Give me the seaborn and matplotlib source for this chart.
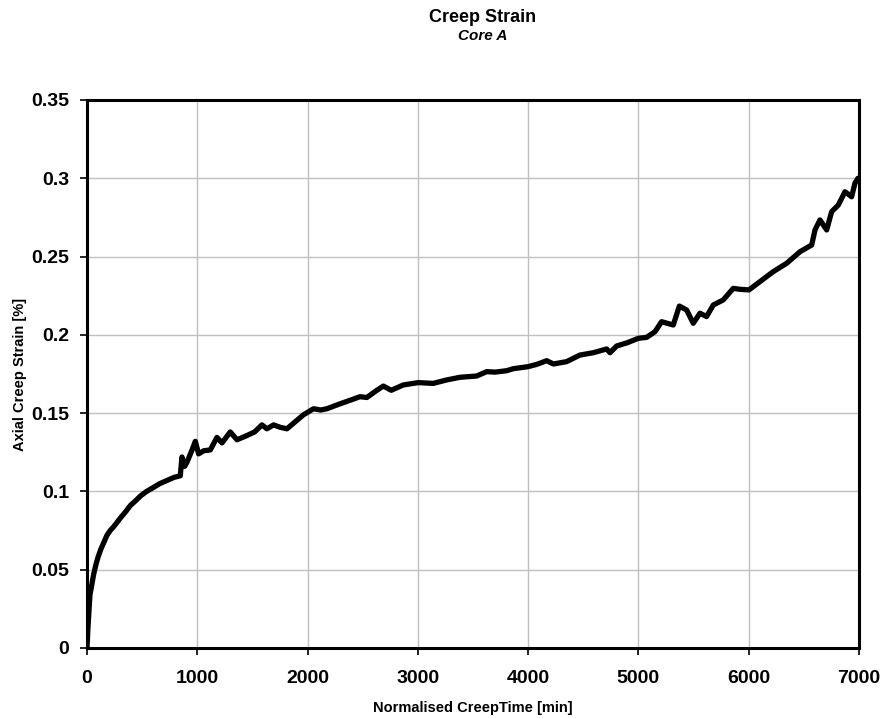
import matplotlib
matplotlib.use("Agg")
import matplotlib.pyplot as plt
import seaborn as sns
import pandas as pd

# Creep test record: normalised creep time [min] vs axial creep strain [%]
creep_time = [0, 8, 18, 27, 45, 60, 80, 100, 125, 150, 181, 210, 242, 270, 302, 350,
              393, 440, 483, 540, 604, 660, 725, 790, 846, 861, 885, 906, 950, 982,
              1012, 1060, 1118, 1178, 1224, 1299, 1360, 1450, 1520, 1586, 1631, 1692,
              1750, 1813, 1873, 1964, 2054, 2120, 2175, 2296, 2417, 2475, 2538, 2628,
              2687, 2759, 2868, 3004, 3140, 3261, 3382, 3533, 3624, 3700, 3805, 3866,
              4001, 4080, 4168, 4229, 4349, 4470, 4591, 4712, 4742, 4803, 4900, 4999,
              5074, 5150, 5210, 5316, 5371, 5437, 5497, 5558, 5618, 5679, 5769, 5860,
              5920, 6002, 6102, 6223, 6344, 6465, 6571, 6601, 6646, 6707, 6752, 6812,
              6873, 6933, 6963, 6990]
creep_strain = [0.000, 0.012, 0.024, 0.034, 0.041, 0.047, 0.053, 0.058, 0.063, 0.067,
                0.072, 0.075, 0.0775, 0.080, 0.083, 0.087, 0.091, 0.094, 0.097, 0.100,
                0.1026, 0.105, 0.107, 0.109, 0.110, 0.122, 0.116, 0.1186, 0.126, 0.132,
                0.124, 0.126, 0.1265, 0.1345, 0.131, 0.138, 0.133, 0.1357, 0.138, 0.1425,
                0.140, 0.1425, 0.141, 0.140, 0.1436, 0.149, 0.1528, 0.152, 0.1528, 0.156,
                0.159, 0.1605, 0.160, 0.1646, 0.1673, 0.1646, 0.168, 0.1695, 0.169, 0.1712,
                0.1729, 0.1737, 0.1765, 0.1762, 0.1771, 0.1784, 0.1797, 0.1812, 0.1835,
                0.1814, 0.1829, 0.1871, 0.1886, 0.191, 0.1886, 0.1929, 0.195, 0.1978,
                0.1984, 0.202, 0.2084, 0.2063, 0.2184, 0.2159, 0.2074, 0.2138, 0.2117,
                0.2191, 0.2223, 0.2297, 0.2291, 0.2287, 0.234, 0.2404, 0.2457, 0.2531,
                0.2574, 0.267, 0.2734, 0.267, 0.2787, 0.2829, 0.2914, 0.2882, 0.2968,
                0.300]

x_ticks = [0, 1000, 2000, 3000, 4000, 5000, 6000, 7000]
y_ticks = [0, 0.05, 0.1, 0.15, 0.2, 0.25, 0.3, 0.35]
y_tick_labels = ["0", "0.05", "0.1", "0.15", "0.2", "0.25", "0.3", "0.35"]

df = pd.DataFrame({"time": creep_time, "strain": creep_strain})

sns.set_style("white")
plt.rcParams["font.family"] = ["Liberation Sans", "DejaVu Sans"]
plt.rcParams["text.color"] = "black"
plt.rcParams["axes.labelcolor"] = "black"
plt.rcParams["xtick.color"] = "black"
plt.rcParams["ytick.color"] = "black"

fig = plt.figure(figsize=(8.81, 7.18), dpi=100)
ax = fig.add_axes([87 / 881, 1 - 648 / 718, (859 - 87) / 881, (648 - 100) / 718])

sns.lineplot(data=df, x="time", y="strain", ax=ax, color="black", linewidth=3.8,
             sort=False, estimator=None, zorder=3)

ax.set_xlim(0, 7000)
ax.set_ylim(0, 0.35)
ax.set_xticks(x_ticks)
ax.set_yticks(y_ticks)
ax.set_yticklabels(y_tick_labels)
ax.grid(True, color="#c0c0c0", linewidth=1.0, zorder=0)
ax.set_axisbelow(True)

for side in ax.spines.values():
    side.set_color("black")
    side.set_linewidth(2.2)

ax.tick_params(axis="both", direction="out", length=5, width=1.2, color="black",
               labelsize=14, labelcolor="black", left=True, bottom=True)
ax.tick_params(axis="x", pad=11)
ax.tick_params(axis="y", pad=8)
for lab in ax.get_xticklabels() + ax.get_yticklabels():
    lab.set_fontweight("bold")

ax.set_xlabel("Normalised CreepTime [min]", fontsize=10.5, fontweight="bold", labelpad=10)
ax.set_ylabel("Axial Creep Strain [%]", fontsize=10.5, fontweight="bold", labelpad=3)

fig.text(483 / 881, 1 - 17 / 718, "Creep Strain", ha="center", va="center",
         fontsize=13, fontweight="bold")
fig.text(483 / 881, 1 - 36 / 718, "Core A", ha="center", va="center",
         fontsize=11, fontweight="bold", fontstyle="italic")

fig.savefig("out.png", dpi=100)
